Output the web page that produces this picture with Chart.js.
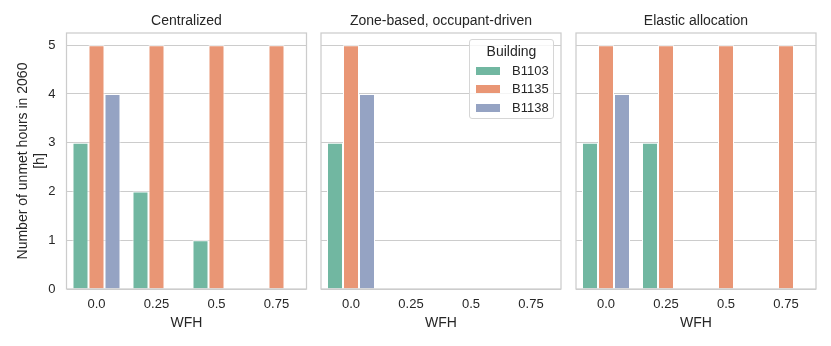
<!DOCTYPE html>
<html>
<head>
<meta charset="utf-8">
<script src="https://cdn.jsdelivr.net/npm/chart.js@4.4.0/dist/chart.umd.min.js"></script>
<style>
body { margin: 0; background: #fff; }
#wrap { position: relative; width: 831px; height: 346px; }
#wrap canvas { position: absolute; left: 0; top: 0; }
#legend { position: absolute; left: 469px; top: 39px; width: 85px; height: 80px; box-sizing: border-box;
  border: 1px solid #d6d6d6; border-radius: 3px; background: rgba(255,255,255,0.8);
  font-family: 'Liberation Sans', Arial, sans-serif; color: #262626; }
#legend .ttl { position: absolute; left: 0; width: 100%; top: 3px; text-align: center; font-size: 14px; line-height: 16px; }
#legend .box { position: absolute; left: 6px; width: 24px; height: 8px; }
#legend .lbl { position: absolute; left: 42px; font-size: 13px; line-height: 14px; }
</style>
</head>
<body>
<div id="wrap">
  <canvas id="c1" width="831" height="346"></canvas>
  <canvas id="c2" width="831" height="346"></canvas>
  <canvas id="c3" width="831" height="346"></canvas>
  <div id="legend"></div>
</div>
<script>
var WFH = ['0.0', '0.25', '0.5', '0.75'];
var BUILDINGS = ['B1103', 'B1135', 'B1138'];
var COLORS = ['#71b7a1', '#e99675', '#95a3c3'];
var PANELS = ['Centralized', 'Zone-based, occupant-driven', 'Elastic allocation'];
// unmet hours, one row per building, one column per WFH value
var centralized = [[3, 2, 1, 0], [5, 5, 5, 5], [4, 0, 0, 0]];
var zoneBased = [[3, 0, 0, 0], [5, 0, 0, 0], [4, 0, 0, 0]];
var elastic = [[3, 3, 0, 0], [5, 5, 5, 5], [4, 0, 0, 0]];
var Y_TICKS = [0, 1, 2, 3, 4, 5];
var Y_LABEL = ['Number of unmet hours in 2060', '[h]'];

Chart.defaults.font.family = "'Liberation Sans', Arial, sans-serif";
Chart.defaults.color = '#262626';

// draws the four spines around the plot area
var frame = {
  id: 'frame',
  afterDatasetsDraw: function(chart) {
    var a = chart.chartArea, c = chart.ctx;
    c.save();
    c.strokeStyle = '#cccccc';
    c.lineWidth = 1.25;
    c.strokeRect(a.left, a.top, a.right - a.left, a.bottom - a.top);
    c.restore();
  }
};

function makeChart(id, title, rows, left, first) {
  var yWidth = first ? 66 : 0;
  return new Chart(document.getElementById(id), {
    type: 'bar',
    data: {
      labels: WFH,
      datasets: BUILDINGS.map(function(b, i) {
        return {
          label: b,
          data: rows[i],
          backgroundColor: COLORS[i],
          borderColor: '#ffffff',
          borderWidth: 1,
          categoryPercentage: 0.8,
          barPercentage: 1
        };
      })
    },
    options: {
      responsive: false,
      animation: false,
      layout: { padding: { left: left - yWidth, right: 831 - left - 240, top: 0, bottom: 0 } },
      plugins: {
        legend: { display: false },
        tooltip: { enabled: false },
        title: {
          display: true,
          text: title,
          fullSize: false,
          color: '#262626',
          font: { size: 14, weight: 'normal', lineHeight: 1.2 },
          padding: { top: 12.6, bottom: 3.6 }
        }
      },
      scales: {
        x: {
          grid: { display: false, drawTicks: false },
          border: { display: false },
          ticks: { font: { size: 13 }, padding: 8 },
          title: { display: true, text: 'WFH', font: { size: 14 }, padding: { top: 0, bottom: 14.6 } },
          afterFit: function(s) { s.height = 57; }
        },
        y: {
          min: 0,
          max: 5.25,
          afterBuildTicks: function(s) {
            s.ticks = Y_TICKS.map(function(v) { return { value: v }; });
          },
          grid: { color: '#cccccc', lineWidth: 1, drawTicks: false },
          border: { display: false },
          ticks: { display: first, font: { size: 13 }, padding: 11 },
          title: {
            display: first,
            text: Y_LABEL,
            font: { size: 14, lineHeight: 1.25 },
            padding: { top: 13.75, bottom: 0 }
          },
          afterFit: function(s) { s.width = yWidth; }
        }
      }
    },
    plugins: [frame]
  });
}

makeChart('c1', PANELS[0], centralized, 66.5, true);
makeChart('c2', PANELS[1], zoneBased, 321, false);
makeChart('c3', PANELS[2], elastic, 576, false);

// legend box
var legend = document.getElementById('legend');
var html = '<div class="ttl">Building</div>';
BUILDINGS.forEach(function(b, i) {
  var cy = 30.5 + i * 18.5;
  html += '<div class="box" style="top:' + (cy - 4) + 'px;background:' + COLORS[i] + '"></div>';
  html += '<div class="lbl" style="top:' + (cy - 7) + 'px">' + b + '</div>';
});
legend.innerHTML = html;
</script>
</body>
</html>
